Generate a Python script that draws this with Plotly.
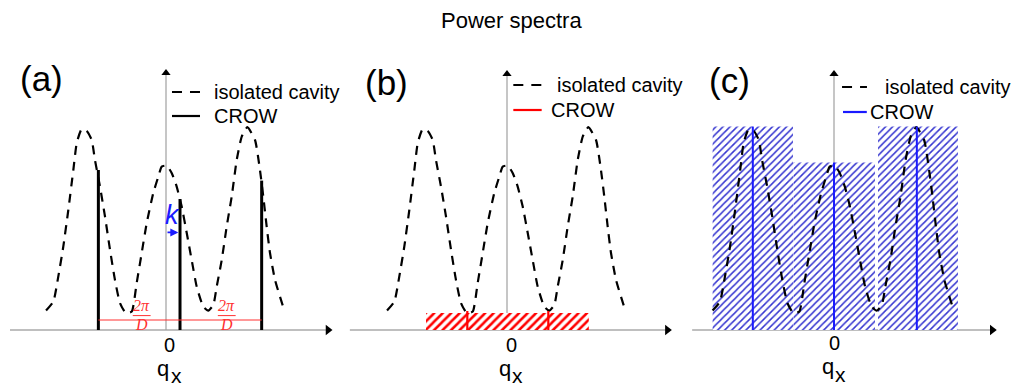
import plotly.graph_objects as go

# ---------------- data ----------------
title_text = "Power spectra"
panel_labels = ["(a)", "(b)", "(c)"]
legend_labels = ["isolated cavity", "CROW"]
tick_label = "0"
axis_label_main = "q"
axis_label_sub = "x"

# isolated-cavity power spectrum (dashed curve), in units of 2*pi/D
cav_x = [-1.481, -1.391, -1.330, -1.268, -1.206, -1.144, -1.102, -1.041, -0.979, -0.917,
         -0.877, -0.815, -0.753, -0.691, -0.630, -0.568, -0.494,
         -0.423, -0.362, -0.300, -0.238, -0.157, -0.095, -0.053, 0.009, 0.070,
         0.132, 0.194, 0.256, 0.317, 0.379, 0.460, 0.522,
         0.584, 0.626, 0.688, 0.749, 0.811, 0.873, 0.935, 1.004, 1.099,
         1.160, 1.201, 1.243, 1.284, 1.346, 1.448]
cav_y = [0.097, 0.142, 0.267, 0.417, 0.600, 0.800, 0.935, 1.004, 0.995, 0.950,
         0.850, 0.717, 0.567, 0.400, 0.250, 0.135, 0.084,
         0.092, 0.235, 0.385, 0.535, 0.685, 0.767, 0.817, 0.822, 0.785,
         0.717, 0.617, 0.485, 0.350, 0.217, 0.117, 0.097,
         0.125, 0.217, 0.350, 0.517, 0.667, 0.850, 0.967, 1.014, 0.950,
         0.800, 0.667, 0.517, 0.385, 0.250, 0.114]

# (a) CROW: discrete lines shifted by k
crow_a_x = [-0.835, 0.173, 1.181]
crow_a_y = [0.800, 0.655, 0.747]
k_shift = 0.152
two_pi_over_d_level = 0.05
fraction_centers = [-0.30, 0.75]

# (b) CROW: flat band
band_b_left = [-1.0]
band_b_right = [1.01]
band_b_height = [0.085]
crow_b_x = [-0.49, 0.51]
crow_b_y = [0.095, 0.095]

# (c) CROW: wide bands
band_c_left = [-1.48, -0.495, 0.537]
band_c_right = [-0.50, 0.500, 1.512]
band_c_height = [1.017, 0.837, 1.017]
crow_c_x = [-0.99, 0.0, 1.01]
crow_c_y = [1.017, 0.837, 1.017]

# ---------------- layout helpers ----------------
W, H = 1020, 387
FONT = "Liberation Sans, Arial, sans-serif"
SERIF = "Liberation Serif, Times New Roman, serif"

panels = [
    dict(xa="x", dom=[0, 340 / W], rng=[-166 / 81, 174 / 81], h=[-1.926, 2.0], v=1.285,
         leg_dash=[0.074, 0.42, 1.19], leg_crow=[0.074, 0.42, 1.07], txt_dash=0.568, txt_crow=0.568,
         lab=(-1.543, 1.26), zero=(0.049, -0.075), q=(-0.035, -0.19), sub=(0.125, -0.228), color="black"),
    dict(xa="x2", dom=[340 / W, 680 / W], rng=[-167 / 81, 173 / 81], h=[-1.94, 1.98], v=1.28,
         leg_dash=[0.078, 0.428, 1.225], leg_crow=[0.078, 0.428, 1.10], txt_dash=0.593, txt_crow=0.522,
         lab=(-1.488, 1.24), zero=(0.058, -0.075), q=(-0.030, -0.19), sub=(0.130, -0.228), color="#ff0000"),
    dict(xa="x3", dom=[680 / W, 1.0], rng=[-154 / 82, 186 / 82], h=[-1.73, 1.93], v=1.28,
         leg_dash=[0.098, 0.402, 1.215], leg_crow=[0.11, 0.40, 1.09], txt_dash=0.598, txt_crow=0.415,
         lab=(-1.28, 1.25), zero=(0.012, -0.064), q=(-0.075, -0.182), sub=(0.085, -0.22), color="#1a1aff"),
]

fig = go.Figure()
shapes = []
annotations = []

for i, p in enumerate(panels):
    xa = p["xa"]
    # axes lines
    shapes.append(dict(type="line", xref=xa, yref="y", x0=p["h"][0], x1=p["h"][1], y0=0, y1=0,
                       line=dict(color="#808080", width=1.2), layer="below"))
    shapes.append(dict(type="line", xref=xa, yref="y", x0=0, x1=0, y0=0, y1=p["v"],
                       line=dict(color="#a0a0a0", width=1.2), layer="below"))
    # arrow heads
    fig.add_trace(go.Scatter(x=[p["h"][1]], y=[0], xaxis=xa, yaxis="y", mode="markers",
                             marker=dict(symbol="triangle-right", size=9, color="black"),
                             hoverinfo="skip", showlegend=False))
    fig.add_trace(go.Scatter(x=[0], y=[p["v"]], xaxis=xa, yaxis="y", mode="markers",
                             marker=dict(symbol="triangle-up", size=8, color="black"),
                             hoverinfo="skip", showlegend=False))

    # hatched bands
    if i == 1:
        fig.add_trace(go.Bar(x=[(l + r) / 2 for l, r in zip(band_b_left, band_b_right)],
                             width=[r - l for l, r in zip(band_b_left, band_b_right)],
                             y=band_b_height, xaxis=xa, yaxis="y",
                             marker=dict(color="white", line=dict(width=0),
                                         pattern=dict(shape="/", fgcolor="#ff0000", bgcolor="white",
                                                      fgopacity=1, size=6, solidity=0.42)),
                             hoverinfo="skip", showlegend=False))
    if i == 2:
        fig.add_trace(go.Bar(x=[(l + r) / 2 for l, r in zip(band_c_left, band_c_right)],
                             width=[r - l for l, r in zip(band_c_left, band_c_right)],
                             y=band_c_height, xaxis=xa, yaxis="y",
                             marker=dict(color="white", line=dict(width=0),
                                         pattern=dict(shape="/", fgcolor="#3535d0", bgcolor="white",
                                                      fgopacity=1, size=5, solidity=0.3)),
                             hoverinfo="skip", showlegend=False))

    # isolated cavity dashed curve
    fig.add_trace(go.Scatter(x=cav_x, y=cav_y, xaxis=xa, yaxis="y", mode="lines",
                             line=dict(color="black", width=2.2, dash="9px,7px", shape="spline", smoothing=0.5),
                             hoverinfo="skip", showlegend=False))

    # CROW lines
    if i == 0:
        cx, cy, col, wd = crow_a_x, crow_a_y, "black", 3
    elif i == 1:
        cx, cy, col, wd = crow_b_x, crow_b_y, "#ff0000", 2.2
    else:
        cx, cy, col, wd = crow_c_x, crow_c_y, "#1a1aff", 2
    xs, ys = [], []
    for xv, yv in zip(cx, cy):
        xs += [xv, xv, None]
        ys += [0, yv, None]
    fig.add_trace(go.Scatter(x=xs, y=ys, xaxis=xa, yaxis="y", mode="lines",
                             line=dict(color=col, width=wd), hoverinfo="skip", showlegend=False))

    # legend samples
    ld = p["leg_dash"]
    lc = p["leg_crow"]
    fig.add_trace(go.Scatter(x=[ld[0], ld[1]], y=[ld[2], ld[2]], xaxis=xa, yaxis="y", mode="lines",
                             line=dict(color="black", width=2.2, dash="10px,8px"),
                             hoverinfo="skip", showlegend=False))
    fig.add_trace(go.Scatter(x=[lc[0], lc[1]], y=[lc[2], lc[2]], xaxis=xa, yaxis="y", mode="lines",
                             line=dict(color=p["color"], width=2.2),
                             hoverinfo="skip", showlegend=False))
    annotations.append(dict(x=p["txt_dash"], y=ld[2], xref=xa, yref="y", text=legend_labels[0],
                            showarrow=False, xanchor="left", yanchor="middle",
                            font=dict(family=FONT, size=20, color="black")))
    annotations.append(dict(x=p["txt_crow"], y=lc[2], xref=xa, yref="y", text=legend_labels[1],
                            showarrow=False, xanchor="left", yanchor="middle",
                            font=dict(family=FONT, size=20, color="black")))

    # panel label
    annotations.append(dict(x=p["lab"][0], y=p["lab"][1], xref=xa, yref="y", text=panel_labels[i],
                            showarrow=False, xanchor="center", yanchor="middle",
                            font=dict(family=FONT, size=35, color="black")))
    # tick "0" and q_x
    annotations.append(dict(x=p["zero"][0], y=p["zero"][1], xref=xa, yref="y", text=tick_label,
                            showarrow=False, xanchor="center", yanchor="middle",
                            font=dict(family=FONT, size=20, color="black")))
    annotations.append(dict(x=p["q"][0], y=p["q"][1], xref=xa, yref="y", text=axis_label_main,
                            showarrow=False, xanchor="center", yanchor="middle",
                            font=dict(family=FONT, size=22, color="black")))
    annotations.append(dict(x=p["sub"][0], y=p["sub"][1], xref=xa, yref="y", text=axis_label_sub,
                            showarrow=False, xanchor="center", yanchor="middle",
                            font=dict(family=FONT, size=21, color="black")))

# (a) extras: 2pi/D spacing marks and k shift
shapes.append(dict(type="line", xref="x", yref="y", x0=crow_a_x[0], x1=crow_a_x[-1],
                   y0=two_pi_over_d_level, y1=two_pi_over_d_level,
                   line=dict(color="#ff3030", width=1)))
for fc in fraction_centers:
    shapes.append(dict(type="line", xref="x", yref="y", x0=fc - 0.11, x1=fc + 0.11,
                       y0=0.072, y1=0.072, line=dict(color="#ff3030", width=1)))
    annotations.append(dict(x=fc, y=0.123, xref="x", yref="y", text="<i>2π</i>", showarrow=False,
                            xanchor="center", yanchor="middle",
                            font=dict(family=SERIF, size=16, color="#ff3030")))
    annotations.append(dict(x=fc, y=0.027, xref="x", yref="y", text="<i>D</i>", showarrow=False,
                            xanchor="center", yanchor="middle",
                            font=dict(family=SERIF, size=16, color="#ff3030")))
annotations.append(dict(x=0.078, y=0.575, xref="x", yref="y", text="<i>k</i>", showarrow=False,
                        xanchor="center", yanchor="middle",
                        font=dict(family=FONT, size=27, color="#1a1aff")))
annotations.append(dict(x=k_shift, y=0.488, ax=0.0, ay=0.488, xref="x", yref="y", axref="x", ayref="y",
                        text="", showarrow=True, arrowhead=2, arrowsize=1, arrowwidth=1.6,
                        arrowcolor="#1a1aff"))

# title
annotations.append(dict(x=511 / W, y=1 - 21 / H, xref="paper", yref="paper", text=title_text,
                        showarrow=False, xanchor="center", yanchor="middle",
                        font=dict(family=FONT, size=22, color="black")))

ax_common = dict(visible=False, showgrid=False, zeroline=False, fixedrange=True)
layout = dict(
    width=W, height=H, margin=dict(l=0, r=0, t=0, b=0),
    paper_bgcolor="white", plot_bgcolor="white",
    showlegend=False, barmode="overlay",
    yaxis=dict(domain=[0, 1], range=[-57 / 200, 330 / 200], **ax_common),
    shapes=shapes, annotations=annotations,
)
for p in panels:
    key = "xaxis" if p["xa"] == "x" else "xaxis" + p["xa"][1:]
    layout[key] = dict(domain=p["dom"], range=p["rng"], anchor="y", **ax_common)

fig.update_layout(**layout)
fig.write_html("out.html")
